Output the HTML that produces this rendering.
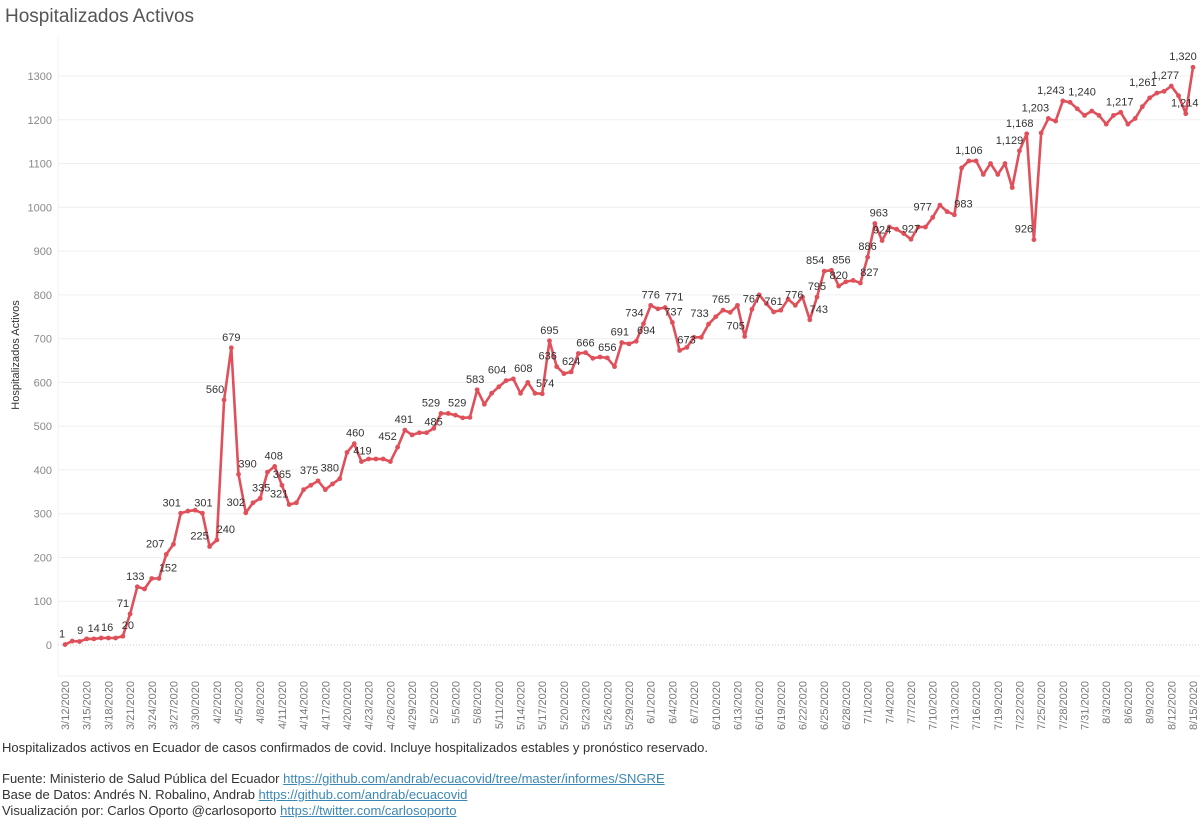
<!DOCTYPE html>
<html><head><meta charset="utf-8">
<style>
body{margin:0;background:#fff;width:1200px;height:819px;overflow:hidden;font-family:"Liberation Sans",sans-serif;}
#title{position:absolute;left:5px;top:6px;font-size:19px;color:#555;}
.note{position:absolute;left:2px;font-size:13px;color:#333;white-space:nowrap;}
.note a{color:#3a87b5;text-decoration:underline;}
svg{position:absolute;left:0;top:0;}
</style></head><body>
<div id="title">Hospitalizados Activos</div>
<svg id="chart" width="1200" height="740"></svg>
<div class="note" style="top:740px">Hospitalizados activos en Ecuador de casos confirmados de covid. Incluye hospitalizados estables y pronóstico reservado.</div>
<div class="note" style="top:771px">Fuente: Ministerio de Salud Pública del Ecuador <a href="#">https://github.com/andrab/ecuacovid/tree/master/informes/SNGRE</a></div>
<div class="note" style="top:787px">Base de Datos: Andrés N. Robalino, Andrab <a href="#">https://github.com/andrab/ecuacovid</a></div>
<div class="note" style="top:803px">Visualización por: Carlos Oporto @carlosoporto <a href="#">https://twitter.com/carlosoporto</a></div>
<script>
const startDate = [2020, 2, 12];
const values = [1,9,8,14,14,16,16,16,20,71,133,128,152,152,207,230,301,306,308,301,225,240,560,679,390,302,325,335,395,408,365,321,
325,355,365,375,355,368,380,440,460,419,425,425,425,419,452,491,480,485,485,495,529,529,525,519,520,583,550,575,590,604,608,575,600,575,574,695,636,620,624,666,
668,655,658,656,636,691,688,694,734,776,768,771,737,673,680,703,703,733,750,765,760,776,705,767,800,780,761,765,790,776,795,743,795,854,856,820,830,833,827,
886,963,924,955,950,940,927,955,955,977,1005,990,983,1090,1106,1106,1075,1100,1075,1100,1045,1129,1168,926,
1170,1203,1197,1243,1240,1225,1210,1220,1210,1190,1210,1217,1190,1203,1230,1250,1261,1265,1277,1255,1214,1320];
const labelIdx = [0,1,3,5,8,9,10,13,14,16,19,20,21,22,23,24,25,27,29,30,31,35,38,40,41,46,47,50,52,53,57,61,62,66,67,68,70,71,75,77,79,80,81,83,84,85,89,91,94,95,98,101,104,103,105,106,107,110,111,112,113,117,120,123,125,132,133,134,136,138,139,146,151,153,155,156];
const labelDx = [-3,8,7,6,5,-7,-2,9,-11,-9,1,-10,9,-9,0,9,-10,1,-1,0,-10,-9,-10,1,1,-10,-1,7,-10,9,-2,-9,10,3,0,-9,0,7,0,-2,10,-9,0,9,1,7,-9,-2,-9,0,0,-1,0,9,-9,10,0,9,0,4,0,0,-10,9,0,-10,-7,-10,-13,-12,12,-1,-14,-6,-1,-10];
const yTicks = [0,100,200,300,400,500,600,700,800,900,1000,1100,1200,1300];

const svg = document.getElementById('chart');
const NS = 'http://www.w3.org/2000/svg';
const X0 = 65, X1 = 1193, Y0 = 645, Y1300 = 76;
const xs = i => X0 + (X1 - X0) * i / (values.length - 1);
const ys = v => Y0 - (Y0 - Y1300) * v / 1300;
function mk(tag, attrs, parent){const e=document.createElementNS(NS,tag);for(const k in attrs)e.setAttribute(k,attrs[k]);(parent||svg).appendChild(e);return e;}

// plot frame
const frame = mk('line',{x1:58,y1:37,x2:58,y2:676,stroke:'#f0f0f0','stroke-width':1});


const bottom = mk('line',{x1:58,y1:676,x2:1200,y2:676,stroke:'#f0f0f0','stroke-width':1});



yTicks.forEach(t=>{
  const y = ys(t);
  const g = mk('line',{x1:58,x2:1200,y1:y,y2:y,stroke:t===0?'#ccc':'#efefef','stroke-width':1,'stroke-dasharray':t===0?'1,2':'none'});
  
  
  const tx = mk('text',{x:52,y:y+4,'text-anchor':'end','font-size':11,fill:'#888'});
  tx.textContent = t;
  
  
});

const yt = mk('text',{x:0,y:0,transform:'translate(19,355) rotate(-90)','text-anchor':'middle','font-size':11,fill:'#333'});
yt.textContent = 'Hospitalizados Activos';



for(let i=0;i<values.length;i+=3){
  const d = new Date(startDate[0], startDate[1], startDate[2]+i);
  const lbl = (d.getMonth()+1)+'/'+d.getDate()+'/'+d.getFullYear();
  const t = mk('text',{x:0,y:0,transform:`translate(${xs(i)+4},681) rotate(-90)`,'text-anchor':'end','font-size':11,fill:'#777'});
  t.textContent = lbl;
  
  
}

const pts = values.map((v,i)=>xs(i).toFixed(1)+','+ys(v).toFixed(1)).join(' ');
const line = mk('polyline',{points:pts,fill:'none',stroke:'#e0505a','stroke-width':2.6,'stroke-linejoin':'round'});


values.forEach((v,i)=>{
  const c = mk('circle',{cx:xs(i),cy:ys(v),r:2.4,fill:'#e0505a'});
  
  
});
labelIdx.forEach((idx,k)=>{
  const v = values[idx];
  const t = mk('text',{x:xs(idx)+labelDx[k],y:ys(v)-7,'text-anchor':'middle','font-size':11,fill:'#333'});
  t.textContent = v.toLocaleString('en-US');
  
  
});
</script>
</body></html>
